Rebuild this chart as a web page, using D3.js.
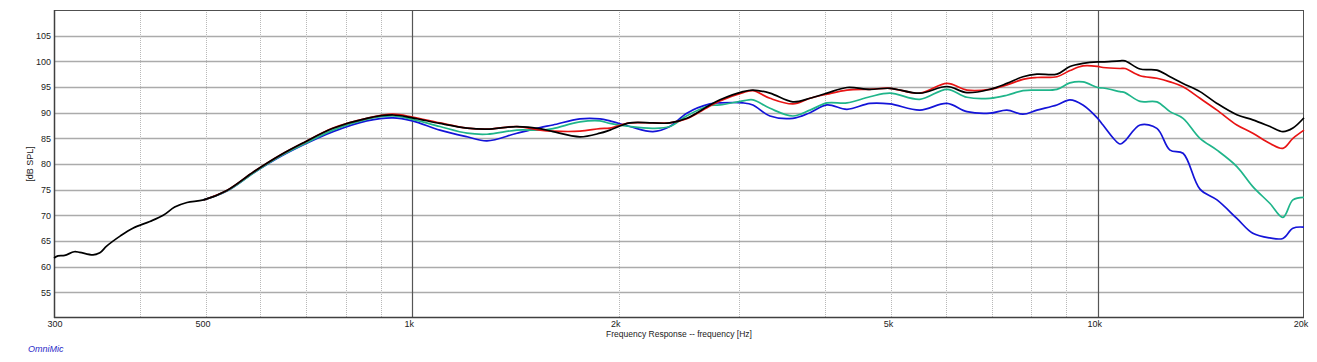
<!DOCTYPE html>
<html>
<head>
<meta charset="utf-8">
<script src="https://cdn.jsdelivr.net/npm/d3@7/dist/d3.min.js"></script>
<style>
  html, body { margin: 0; padding: 0; background: #ffffff; }
  svg { display: block; }
  text { font-family: "Liberation Sans", Arial, sans-serif; }
</style>
</head>
<body>
<svg id="chart" width="1317" height="362"></svg>
<script>
// Frequency points (Hz)
const freq = [300, 304, 311, 321, 327, 342, 350, 358, 375, 391, 414, 433, 450, 469, 496,
  537, 587, 643, 695, 766, 858, 937, 1000, 1097, 1202, 1285, 1421, 1536, 1604, 1756,
  1878, 1942, 2077, 2244, 2375, 2515, 2718, 2811, 3037, 3140, 3325, 3591, 3804, 4027,
  4307, 4652, 4976, 5502, 6026, 6445, 6962, 7371, 7780, 8154, 8720, 9110, 9515, 10000,
  10180, 10780, 10960, 11530, 12200, 12750, 13320, 14100, 14930, 15960, 16840, 17840,
  18630, 19270, 20000];

// Series values (dB SPL); null = not drawn
const blackSeries = [61.7, 62.1, 62.2, 62.9, 62.8, 62.3, 62.7, 64.0, 66.0, 67.5, 68.8, 70.0, 71.6, 72.5, 73.0,
  74.9, 78.5, 81.8, 84.2, 86.95, 88.9, 89.55, 89.0, 87.9, 87.0, 86.8, 87.3, 86.9, 86.3, 85.3,
  86.0, 86.6, 88.0, 88.0, 88.0, 88.9, 91.5, 92.5, 94.1, 94.4, 93.8, 92.1, 92.8, 93.8,
  94.9, 94.55, 94.75, 93.8, 95.1, 93.9, 94.55, 95.7, 97.0, 97.5, 97.5, 99.0, 99.6, 99.9,
  99.9, 100.1, 100.1, 98.5, 98.3, 97.0, 95.7, 94.1, 91.8, 89.6, 88.6, 87.3,
  86.3, 87.0, 89.0];
const redSeries = [null, null, null, null, null, null, null, null, null, null, null, null, null, null, 73.0,
  74.9, 78.5, 81.8, 84.2, 87.0, 88.9, 89.7, 89.15, 88.0, 87.0, 86.8, 87.3, 86.6, 86.4, 86.4,
  86.9, 87.0, 88.0, 88.0, 88.0, 88.8, 91.3, 92.3, 93.9, 94.3, 92.8, 91.7, 92.8, 93.6,
  94.4, 94.55, 94.75, 93.8, 95.7, 94.4, 94.55, 95.4, 96.5, 96.85, 97.0, 98.2, 99.1, 99.0,
  98.8, 98.6, 98.6, 97.2, 96.7, 96.0, 95.05, 92.8, 90.5, 87.6, 86.0, 84.0,
  83.05, 85.0, 86.6];
const greenSeries = [null, null, null, null, null, null, null, null, null, null, null, null, null, null, 73.0,
  74.8, 78.3, 81.6, 83.9, 86.6, 88.7, 89.35, 88.7, 87.3, 86.0, 85.8, 86.6, 86.6, 86.9, 88.2,
  88.4, 87.9, 87.3, 86.95, 87.3, 89.4, 91.4, 91.5, 92.3, 92.5, 90.85, 89.35, 90.5, 91.9,
  91.9, 93.1, 93.8, 92.6, 94.55, 93.0, 92.8, 93.4, 94.3, 94.4, 94.55, 95.8, 96.0, 94.9,
  94.8, 94.1, 93.9, 92.2, 92.1, 90.2, 88.9, 85.0, 82.7, 79.5, 75.6, 72.3,
  69.6, 73.0, 73.5];
const blueSeries = [null, null, null, null, null, null, null, null, null, null, null, null, null, null, 73.0,
  74.8, 78.3, 81.5, 83.8, 86.3, 88.4, 89.0, 88.4, 86.6, 85.3, 84.5, 86.0, 87.1, 87.6, 88.8,
  88.8, 88.4, 87.3, 86.3, 87.3, 89.9, 91.7, 91.9, 91.9, 91.5, 89.35, 88.9, 90.0, 91.5,
  90.65, 91.8, 91.7, 90.5, 91.8, 90.2, 89.9, 90.5, 89.7, 90.5, 91.5, 92.5, 91.5, 88.9,
  87.6, 83.9, 84.5, 87.6, 86.95, 82.7, 82.1, 75.1, 73.0, 69.4, 66.5, 65.6,
  65.5, 67.5, 67.7];

const yTicks = [55, 60, 65, 70, 75, 80, 85, 90, 95, 100, 105];
const xTickValues = [300, 500, 1000, 2000, 5000, 10000, 20000];
const xTickLabels = ["300", "500", "1k", "2k", "5k", "10k", "20k"];
const minorGrid = [400, 500, 600, 700, 800, 900, 2000, 3000, 4000, 5000, 6000, 7000, 8000, 9000];
const majorGrid = [1000, 10000];

const seriesList = [
  { name: "blue", values: blueSeries, color: "#1414d8" },
  { name: "green", values: greenSeries, color: "#1fb58a" },
  { name: "red", values: redSeries, color: "#e81414" },
  { name: "black", values: blackSeries, color: "#000000" }
];

const svg = d3.select("#chart");
const pL = 54, pR = 1304, pT = 10, pB = 318;
const x = d3.scaleLog().domain([300, 20000]).range([pL, pR]);
const y = d3.scaleLinear().domain([50, 110]).range([pB, pT]);

// horizontal grid
svg.append("g").selectAll("line").data(yTicks).join("line")
  .attr("x1", pL).attr("x2", pR)
  .attr("y1", d => Math.round(y(d)) + 0.5).attr("y2", d => Math.round(y(d)) + 0.5)
  .attr("stroke", "#ababab").attr("stroke-width", 1.6);

// minor vertical grid
svg.append("g").selectAll("line").data(minorGrid).join("line")
  .attr("x1", d => Math.round(x(d)) + 0.5).attr("x2", d => Math.round(x(d)) + 0.5)
  .attr("y1", pT).attr("y2", pB)
  .attr("stroke", "#b8b8b8").attr("stroke-width", 1).attr("stroke-dasharray", "1,1");

// major vertical grid
svg.append("g").selectAll("line").data(majorGrid).join("line")
  .attr("x1", d => Math.round(x(d)) + 0.5).attr("x2", d => Math.round(x(d)) + 0.5)
  .attr("y1", pT).attr("y2", pB)
  .attr("stroke", "#555555").attr("stroke-width", 1.2);

// frame
svg.append("rect").attr("x", pL + 0.5).attr("y", pT + 0.5)
  .attr("width", pR - pL - 1).attr("height", pB - pT - 1)
  .attr("fill", "none").attr("stroke", "#505050").attr("stroke-width", 1);
svg.append("line").attr("x1", pL).attr("x2", pR).attr("y1", pB - 0.5).attr("y2", pB - 0.5)
  .attr("stroke", "#404040").attr("stroke-width", 1.5);
svg.append("line").attr("x1", pL + 0.5).attr("x2", pL + 0.5).attr("y1", pT).attr("y2", pB)
  .attr("stroke", "#404040").attr("stroke-width", 1.5);

// y tick labels
svg.append("g").selectAll("text").data(yTicks).join("text")
  .attr("x", 51).attr("y", d => y(d) + 3.2)
  .attr("text-anchor", "end").attr("font-size", 9).attr("fill", "#222")
  .text(d => d);

// x tick labels
svg.append("g").selectAll("text").data(xTickValues).join("text")
  .attr("x", (d, i) => x(d) + (i === 0 ? 1 : -3)).attr("y", 327)
  .attr("text-anchor", "middle").attr("font-size", 9).attr("fill", "#222")
  .text((d, i) => xTickLabels[i]);

// axis titles
svg.append("text").attr("x", 679).attr("y", 337).attr("text-anchor", "middle")
  .attr("font-size", 8.5).attr("fill", "#222").text("Frequency Response -- frequency [Hz]");
svg.append("text").attr("transform", "translate(33,164) rotate(-90)").attr("text-anchor", "middle")
  .attr("font-size", 9).attr("fill", "#222").text("[dB SPL]");
svg.append("text").attr("x", 28).attr("y", 352).attr("font-size", 9)
  .attr("font-style", "italic").attr("fill", "#2a2ac8").text("OmniMic");

// curves
const line = d3.line()
  .defined(d => d.v !== null)
  .x(d => x(d.f)).y(d => y(d.v))
  .curve(d3.curveCatmullRom.alpha(0.5));

svg.append("g").selectAll("path").data(seriesList).join("path")
  .attr("d", s => line(freq.map((f, i) => ({ f: f, v: s.values[i] }))))
  .attr("fill", "none").attr("stroke", s => s.color)
  .attr("stroke-width", 1.7).attr("stroke-linejoin", "round");
</script>
</body>
</html>
